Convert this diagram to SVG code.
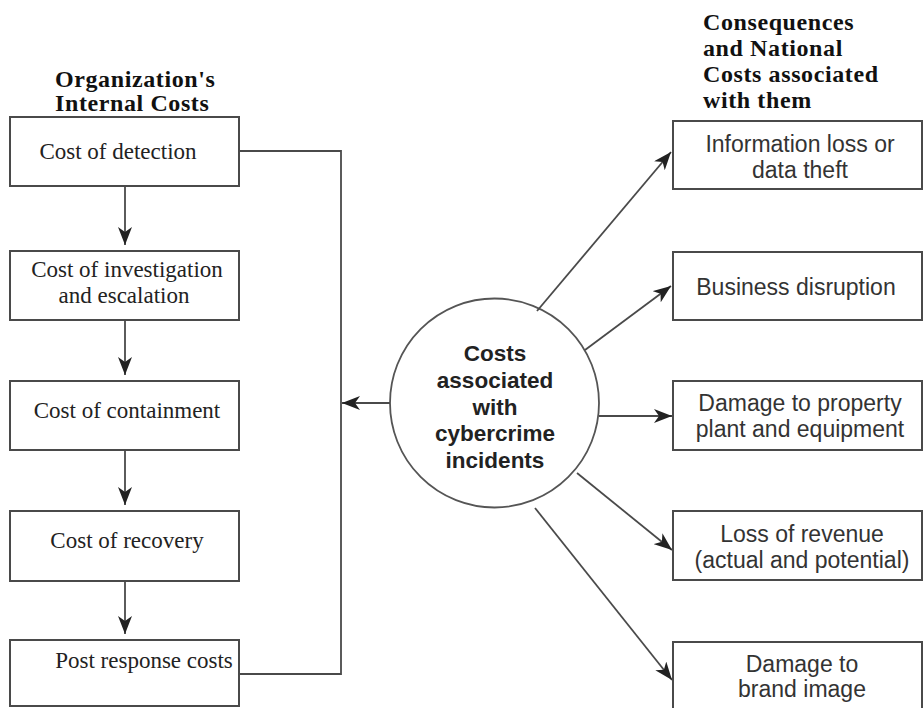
<svg xmlns="http://www.w3.org/2000/svg" width="924" height="708" viewBox="0 0 924 708">
<style>
.box{fill:#fff;stroke:#4a4a4a;stroke-width:2}
.circ{fill:#fff;stroke:#555;stroke-width:1.8}
.ln{fill:none;stroke:#4a4a4a;stroke-width:1.8}
.lt{font-family:"Liberation Serif","Times New Roman",serif;font-size:23px;fill:#222;text-anchor:middle}
.hd{font-family:"Liberation Serif","Times New Roman",serif;font-size:24px;font-weight:bold;fill:#111;letter-spacing:0.6px}
.rt{font-family:"Liberation Sans",Arial,sans-serif;font-size:23px;fill:#333;text-anchor:middle}
.ct{font-family:"Liberation Sans",Arial,sans-serif;font-size:22.5px;font-weight:bold;fill:#222;text-anchor:middle}
</style>
<defs>
<marker id="ah" markerUnits="userSpaceOnUse" markerWidth="20" markerHeight="14" refX="18" refY="7" orient="auto">
<path d="M0,0 L18,7 L0,14 L5,7 z" fill="#222"/>
</marker>
</defs>
<g id="heading-left"><text class="hd" x="55" y="87">Organization's</text><text class="hd" x="55" y="111">Internal Costs</text></g>
<g id="heading-right"><text class="hd" x="703" y="30">Consequences</text><text class="hd" x="703" y="56">and National</text><text class="hd" x="703" y="82">Costs associated</text><text class="hd" x="703" y="108">with them</text></g>
<g id="n-detection"><rect class="box" x="10" y="117" width="229" height="69"/><text class="lt" x="118" y="159">Cost of detection</text></g>
<g id="n-investigation"><rect class="box" x="10" y="251" width="229" height="69"/><text class="lt" x="127" y="277">Cost of investigation</text><text class="lt" x="124" y="303">and escalation</text></g>
<g id="n-containment"><rect class="box" x="10" y="381" width="229" height="69"/><text class="lt" x="127" y="418">Cost of containment</text></g>
<g id="n-recovery"><rect class="box" x="10" y="511" width="229" height="70"/><text class="lt" x="127" y="548">Cost of recovery</text></g>
<g id="n-post"><rect class="box" x="10" y="640" width="229" height="66"/><text class="lt" x="144" y="668">Post response costs</text></g>
<g id="n-center"><circle class="circ" cx="494.5" cy="403" r="104.5"/><text class="ct" x="495" y="361">Costs</text><text class="ct" x="495" y="388">associated</text><text class="ct" x="495" y="415">with</text><text class="ct" x="495" y="441">cybercrime</text><text class="ct" x="495" y="468">incidents</text></g>
<g id="n-info"><rect class="box" x="673" y="121" width="249" height="68"/><text class="rt" x="800" y="152">Information loss or</text><text class="rt" x="800" y="178">data theft</text></g>
<g id="n-business"><rect class="box" x="673" y="252" width="249" height="68"/><text class="rt" x="796" y="295">Business disruption</text></g>
<g id="n-property"><rect class="box" x="673" y="381" width="249" height="69"/><text class="rt" x="800" y="411">Damage to property</text><text class="rt" x="800" y="437">plant and equipment</text></g>
<g id="n-revenue"><rect class="box" x="673" y="511" width="249" height="69"/><text class="rt" x="802" y="542">Loss of revenue</text><text class="rt" x="802" y="568">(actual and potential)</text></g>
<g id="n-brand"><rect class="box" x="673" y="642" width="249" height="68"/><text class="rt" x="802" y="672">Damage to</text><text class="rt" x="802" y="697">brand image</text></g>
<g id="connectors">
<line class="ln" x1="125" y1="186" x2="125" y2="245" marker-end="url(#ah)"/>
<line class="ln" x1="125" y1="320" x2="125" y2="375" marker-end="url(#ah)"/>
<line class="ln" x1="125" y1="450" x2="125" y2="505" marker-end="url(#ah)"/>
<line class="ln" x1="125" y1="581" x2="125" y2="634" marker-end="url(#ah)"/>
<polyline class="ln" points="239,151 341,151 341,674 239,674"/>
<line class="ln" x1="390" y1="403" x2="342" y2="403" marker-end="url(#ah)"/>
<line class="ln" x1="537" y1="311" x2="671" y2="152" marker-end="url(#ah)"/>
<line class="ln" x1="585" y1="350" x2="671" y2="286" marker-end="url(#ah)"/>
<line class="ln" x1="599" y1="416" x2="672" y2="416" marker-end="url(#ah)"/>
<line class="ln" x1="577" y1="473" x2="672" y2="550" marker-end="url(#ah)"/>
<line class="ln" x1="535" y1="508" x2="672" y2="680" marker-end="url(#ah)"/>
</g>
</svg>
